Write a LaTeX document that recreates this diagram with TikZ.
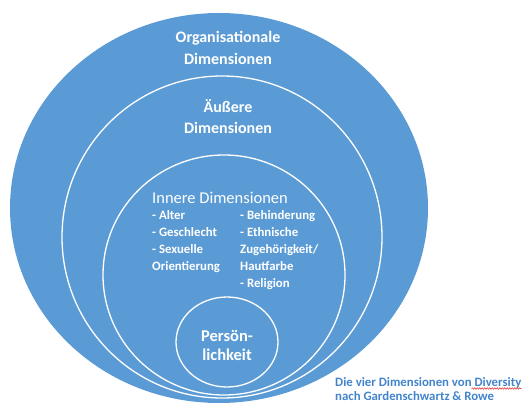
\documentclass[tikz,border=0pt]{standalone}
\usepackage{fontspec}
\setmainfont{Carlito}
\usetikzlibrary{shapes.geometric,decorations.pathmorphing}
\definecolor{ringblue}{RGB}{91,155,213}
\definecolor{captionblue}{RGB}{66,132,204}
\definecolor{spellred}{RGB}{220,40,40}
\begin{document}
\begin{tikzpicture}[x=1pt,y=-1pt,
  ring/.style={ellipse,inner sep=0pt,draw=white,line width=1.3pt},
  % multi-line labels are placed by the baseline of their last line
  head/.style={text=white,font=\bfseries\fontsize{16}{22}\selectfont,align=center,anchor=base},
  inhead/.style={text=white,font=\fontsize{16.5}{20}\selectfont,anchor=base west,inner sep=0pt},
  itemlist/.style={text=white,font=\bfseries\fontsize{12.8}{16.8}\selectfont,align=left,anchor=base west,inner sep=0pt},
  caption/.style={text=captionblue,font=\bfseries\fontsize{12.8}{14}\selectfont,align=left,anchor=base west,inner sep=0pt}]
\useasboundingbox (0,0) rectangle (526,403);
% nested dimensions
\node[ellipse,inner sep=0pt,fill=ringblue,minimum width=418pt,minimum height=390pt] (orga) at (219,208) {};
\node[ring,minimum width=320pt,minimum height=322pt] (outer) at (222,237) {};
\node[ring,minimum width=242pt,minimum height=240pt] (inner) at (224,275) {};
\node[ring,minimum width=102pt,minimum height=90pt] (person) at (227,342) {};
% labels
\node[head] (orgalabel) at (228,65) {Organisationale\\Dimensionen};
\node[head,font=\bfseries\fontsize{16}{21}\selectfont] (outerlabel) at (228,134) {Äußere\\Dimensionen};
\node[inhead] (innerlabel) at (152,203) {Innere Dimensionen};
\node[itemlist] (leftitems) at (152,270) {- Alter\\- Geschlecht\\- Sexuelle\\Orientierung};
\node[itemlist] (rightitems) at (240,287) {- Behinderung\\- Ethnische\\Zugehörigkeit/\\Hautfarbe\\- Religion};
\node[head,font=\bfseries\fontsize{16.5}{18.5}\selectfont] (personlabel) at (227,360) {Persön-\\lichkeit};
% source note
\node[caption] (note1) at (335,386) {Die vier Dimensionen von Diversity};
\node[caption] (note2) at (335,400) {nach Gardenschwartz \& Rowe};
\draw[spellred,line width=0.5pt,decorate,decoration={snake,amplitude=0.8pt,segment length=2.5pt}]
  (note1.base east) ++(-50,2.5) -- ++(50,0);
\end{tikzpicture}
\end{document}
